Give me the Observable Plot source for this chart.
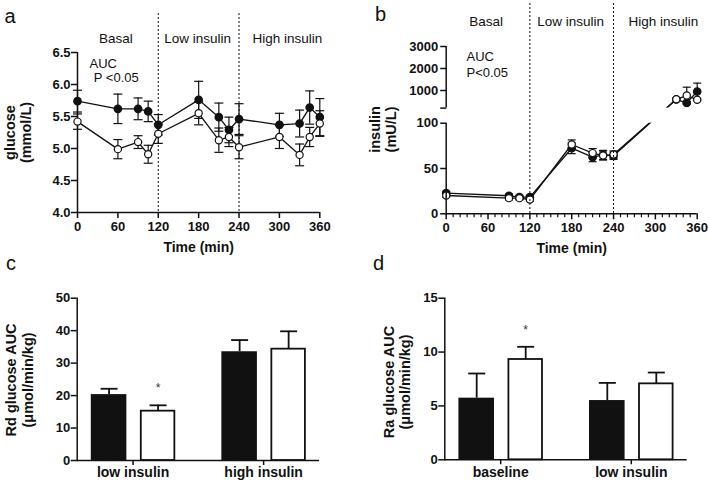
<!DOCTYPE html>
<html><head><meta charset="utf-8">
<script src="https://cdn.jsdelivr.net/npm/d3@7"></script>
<script src="https://cdn.jsdelivr.net/npm/@observablehq/plot@0.6"></script>
<style>
body{margin:0;background:#fff;}
#fig{position:relative;width:709px;height:484px;font-family:"Liberation Sans",Arial,sans-serif;color:#111;overflow:hidden;}
.lbl{position:absolute;font-size:20px;line-height:20px;}
</style></head><body><div id="fig"></div>
<script>
// ---------- data ----------
const phaseNames = ["Basal", "Low insulin", "High insulin"];
const phaseBounds = [0, 120, 240, 360];
const timeTicks = [0, 60, 120, 180, 240, 300, 360];
const minorTimeTicks = [10,20,30,40,50,70,80,90,100,110,130,140,150,160,170,190,200,210,220,230,250,260,270,280,290,310,320,330,340,350];

// panel a: glucose (mmol/L)
const glucoseTime = [0, 60, 90, 105, 120, 180, 210, 225, 240, 300, 330, 345, 360];
const glucoseFilled = [5.74, 5.62, 5.62, 5.58, 5.37, 5.76, 5.49, 5.29, 5.46, 5.37, 5.39, 5.64, 5.49];
const glucoseFilledErr = [0.17, 0.23, 0.17, 0.16, 0.16, 0.29, 0.22, 0.20, 0.24, 0.18, 0.21, 0.26, 0.29];
const glucoseOpen = [5.42, 4.99, 5.10, 4.91, 5.23, 5.55, 5.13, 5.18, 5.02, 5.18, 4.90, 5.18, 5.39];
const glucoseOpenErr = [0.12, 0.15, 0.10, 0.14, 0.15, 0.18, 0.19, 0.15, 0.18, 0.18, 0.17, 0.15, 0.20];
const glucoseTicks = [4.0, 4.5, 5.0, 5.5, 6.0, 6.5];

// panel b: insulin (mU/L), broken axis
const insulinTime = [0, 90, 105, 120, 180, 210, 225, 240, 330, 345, 360];
const insulinFilled = [22.8, 19.9, 18.4, 18.4, 72.4, 62.5, 65.0, 64.0, 590, 440, 955];
const insulinFilledErr = [2, 2, 2, 2, 6, 5, 5, 4, 40, 40, 380];
const insulinOpen = [20.2, 17.3, 17.3, 15.8, 76.5, 67.0, 64.3, 65.4, 600, 770, 580];
const insulinOpenErr = [2, 2, 2, 2, 5, 5, 5, 4, 40, 380, 40];
const insulinLowTicks = [0, 50, 100];
const insulinHighTicks = [1000, 2000, 3000];
const insulinBreak = [100, 200];

// panel c: Rd glucose AUC
const rdCategories = ["low insulin", "high insulin"];
const rdFilled = [20.3, 33.5];
const rdFilledErr = [1.8, 3.6];
const rdOpen = [15.2, 34.3];
const rdOpenErr = [1.8, 5.5];
const rdSignif = [true, false];
const rdTicks = [0, 10, 20, 30, 40, 50];

// panel d: Ra glucose AUC
const raCategories = ["baseline", "low insulin"];
const raFilled = [5.72, 5.50];
const raFilledErr = [2.29, 1.64];
const raOpen = [9.31, 7.05];
const raOpenErr = [1.18, 1.05];
const raSignif = [true, false];
const raTicks = [0, 5, 10, 15];

// ---------- helpers ----------
const fig = document.getElementById("fig");
const font = '"Liberation Sans", Arial, sans-serif';
const ink = "#111";
const baseStyle = {fontFamily: font, fontSize: "13px", fontWeight: "bold", color: ink, background: "transparent", overflow: "visible"};
const cap = (half) => ({draw(ctx) { ctx.moveTo(-half, 0); ctx.lineTo(half, 0); }});
const vtick = (len) => ({draw(ctx) { ctx.moveTo(0, 0); ctx.lineTo(0, len); }});
const htick = (len) => ({draw(ctx) { ctx.moveTo(0, 0); ctx.lineTo(-len, 0); }});
function place(node, left, top) {
  node.style.position = "absolute";
  node.style.left = left + "px";
  node.style.top = top + "px";
  fig.appendChild(node);
}
function letter(txt, left, top) {
  const d = document.createElement("div");
  d.className = "lbl"; d.textContent = txt;
  d.style.left = left + "px"; d.style.top = top + "px";
  fig.appendChild(d);
}
const series = (time, fv, fe, ov, oe) => time.flatMap((t, i) => [
  {t, v: fv[i], e: fe[i], g: "filled"},
  {t, v: ov[i], e: oe[i], g: "open"}
]);
const phaseDx = [-2, -1, 8];
const phaseMarks = (dy) => phaseNames.map((name, i) => Plot.text([name], {
  x: () => (phaseBounds[i] + phaseBounds[i + 1]) / 2, frameAnchor: "top", dy, dx: phaseDx[i],
  textAnchor: "middle", lineAnchor: "middle", fontWeight: "normal", fontSize: 13.5
}));
const yTitle = (txt, dx, dy, lh) => Plot.text([txt], {
  frameAnchor: "left", rotate: -90, dx, dy, textAnchor: "middle", lineAnchor: "middle",
  fontSize: 14.5, fontWeight: "bold", lineHeight: lh
});
const timeTitle = Plot.text(["Time (min)"], {frameAnchor: "bottom", dy: 35, textAnchor: "middle", lineAnchor: "middle", fontSize: 14, fontWeight: "bold"});
const ident = (v) => v;
const timeSeriesMarks = (data, capHalf, f = ident) => [
  Plot.line(data, {x: "t", y: d => f(d.v), z: "g", stroke: ink, strokeWidth: 1.3}),
  Plot.ruleX(data, {x: "t", y1: d => f(d.v - d.e), y2: d => f(d.v + d.e), stroke: ink, strokeWidth: 1.2}),
  Plot.dot(data, {x: "t", y: d => f(d.v + d.e), symbol: cap(capHalf), stroke: ink, strokeWidth: 1.2, fill: "none"}),
  Plot.dot(data, {x: "t", y: d => f(d.v - d.e), symbol: cap(capHalf), stroke: ink, strokeWidth: 1.2, fill: "none"}),
  Plot.dot(data.filter(d => d.g === "filled"), {x: "t", y: d => f(d.v), r: 3.6, fill: ink, stroke: ink}),
  Plot.dot(data.filter(d => d.g === "open"), {x: "t", y: d => f(d.v), r: 3.6, fill: "white", stroke: ink, strokeWidth: 1.2})
];

// ---------- panel a ----------
const glData = series(glucoseTime, glucoseFilled, glucoseFilledErr, glucoseOpen, glucoseOpenErr);
const plotA = Plot.plot({
  width: 355, height: 258,
  marginLeft: 77, marginRight: 35.7, marginTop: 13, marginBottom: 46,
  style: baseStyle,
  x: {domain: [phaseBounds[0], phaseBounds[3]]},
  y: {domain: [glucoseTicks[0], glucoseTicks[glucoseTicks.length - 1]], range: [212, 52]},
  marks: [
    Plot.ruleX(phaseBounds.slice(1, 3), {stroke: ink, strokeDasharray: "2,2", strokeWidth: 1}),
    Plot.ruleY([glucoseTicks[0]], {stroke: ink, strokeWidth: 1.5}),
    Plot.ruleX([0], {y1: glucoseTicks[0], y2: glucoseTicks[glucoseTicks.length - 1], stroke: ink, strokeWidth: 1.5}),
    Plot.axisX({ticks: timeTicks, tickSize: 6, tickPadding: 3, label: null, strokeWidth: 1.5}),
    Plot.axisY({ticks: glucoseTicks, tickFormat: d3.format(".1f"), tickSize: 6, tickPadding: 1, label: null, strokeWidth: 1.5}),
    ...timeSeriesMarks(glData, 4.5),
    ...phaseMarks(25),
    Plot.text(["AUC"], {frameAnchor: "top-left", dx: 12, dy: 50.3, textAnchor: "start", lineAnchor: "middle", fontWeight: "normal", fontSize: 13}),
    Plot.text(["P <0.05"], {frameAnchor: "top-left", dx: 16.3, dy: 64.3, textAnchor: "start", lineAnchor: "middle", fontWeight: "normal", fontSize: 13}),
    yTitle("glucose\n(mmol/L)", -59.5, 19.5, 1.05),
    timeTitle
  ]
});
place(plotA, 0, 0);

// ---------- panel b (broken y axis) ----------
// display units: lower segment in mU/L, then a gap, then the compressed upper segment
const insGap = 16.67;                 // height of the axis break, in lower-segment units
const insUpperPerUnit = 68 / 2800;    // compression of the upper segment
const brokenY = (v) => v <= insulinBreak[0] ? v
  : v >= insulinBreak[1] ? insulinBreak[0] + insGap + (v - insulinBreak[1]) * insUpperPerUnit
  : insulinBreak[0] + (v - insulinBreak[0]) / (insulinBreak[1] - insulinBreak[0]) * insGap;
const insData = series(insulinTime, insulinFilled, insulinFilledErr, insulinOpen, insulinOpenErr);
const insTop = insulinHighTicks[insulinHighTicks.length - 1];
const insTicks = [...insulinLowTicks, ...insulinHighTicks];
const plotB = Plot.plot({
  width: 354, height: 258,
  marginLeft: 90.7, marginRight: 12.3, marginTop: 3, marginBottom: 44.7,
  style: baseStyle,
  x: {domain: [phaseBounds[0], phaseBounds[3]]},
  y: {axis: null, domain: [brokenY(insulinLowTicks[0]), brokenY(insTop)], range: [213.3, 46]},
  marks: [
    ...timeSeriesMarks(insData, 4, brokenY),
    Plot.rect([insulinBreak], {y1: d => brokenY(d[0]), y2: d => brokenY(d[1]), fill: "white"}),
    Plot.ruleX(phaseBounds.slice(1, 3), {stroke: ink, strokeDasharray: "2,2", strokeWidth: 1}),
    Plot.ruleY([brokenY(insulinLowTicks[0])], {stroke: ink, strokeWidth: 1.5}),
    Plot.ruleX([0], {y1: brokenY(insulinLowTicks[0]), y2: brokenY(insulinBreak[0]), stroke: ink, strokeWidth: 1.5}),
    Plot.ruleX([0], {y1: brokenY(insulinBreak[1]), y2: brokenY(insTop), stroke: ink, strokeWidth: 1.5}),
    Plot.axisX({ticks: timeTicks, tickSize: 6, tickPadding: 3, label: null, strokeWidth: 1.5}),
    Plot.dot(minorTimeTicks, {x: d => d, y: () => brokenY(insulinLowTicks[0]), symbol: vtick(3.5), stroke: ink, strokeWidth: 1.2, fill: "none"}),
    Plot.dot([...insTicks, insulinBreak[1]], {x: () => 0, y: d => brokenY(d), symbol: htick(6), stroke: ink, strokeWidth: 1.5, fill: "none"}),
    Plot.text(insTicks, {x: () => 0, y: d => brokenY(d), text: d => String(d), dx: -8, textAnchor: "end", lineAnchor: "middle", fontSize: 13, fontWeight: "bold"}),
    ...phaseMarks(18),
    Plot.text(["AUC"], {frameAnchor: "top-left", dx: 20.3, dy: 53, textAnchor: "start", lineAnchor: "middle", fontWeight: "normal", fontSize: 13}),
    Plot.text(["P<0.05"], {frameAnchor: "top-left", dx: 20.3, dy: 69, textAnchor: "start", lineAnchor: "middle", fontWeight: "normal", fontSize: 13}),
    yTitle("insulin\n(mU/L)", -63.2, 20.8, 1.05),
    timeTitle
  ]
});
place(plotB, 355, 0);

// ---------- bar panels ----------
function barPanel({cats, fv, fe, ov, oe, sig, ticks, title, width, marginLeft, marginRight, marginTop, marginBottom, titleDx, titleDy}) {
  const data = cats.map((cat, i) => ({cat, fv: fv[i], fe: fe[i], ov: ov[i], oe: oe[i], sig: sig[i]}));
  return Plot.plot({
    width, height: 226, marginLeft, marginRight, marginTop, marginBottom,
    style: baseStyle,
    x: {type: "band", domain: cats, paddingInner: 0.36, paddingOuter: 0.108, round: false},
    y: {domain: [ticks[0], ticks[ticks.length - 1]]},
    marks: [
      Plot.barY(data, {x: "cat", y: "fv", fill: ink, insetRight: 48}),
      Plot.barY(data, {x: "cat", y: "ov", fill: "white", stroke: ink, strokeWidth: 1.8, insetLeft: 50}),
      Plot.ruleX(data, {x: "cat", y1: "fv", y2: d => d.fv + d.fe, dx: -24, stroke: ink, strokeWidth: 1.8}),
      Plot.dot(data, {x: "cat", y: d => d.fv + d.fe, dx: -24, symbol: cap(8.5), stroke: ink, strokeWidth: 1.8, fill: "none"}),
      Plot.ruleX(data, {x: "cat", y1: "ov", y2: d => d.ov + d.oe, dx: 25, stroke: ink, strokeWidth: 1.8}),
      Plot.dot(data, {x: "cat", y: d => d.ov + d.oe, dx: 25, symbol: cap(8.5), stroke: ink, strokeWidth: 1.8, fill: "none"}),
      Plot.text(data.filter(d => d.sig), {x: "cat", y: d => d.ov + d.oe, text: () => "*", dx: 25, dy: -17, fontSize: 12, fontWeight: "normal", fill: "#333"}),
      Plot.frame({anchor: "left", stroke: ink, strokeWidth: 1.5}),
      Plot.ruleY([ticks[0]], {stroke: ink, strokeWidth: 1.5}),
      Plot.axisY({ticks, tickSize: 6, tickPadding: 1, label: null, strokeWidth: 1.5}),
      Plot.axisX({tickSize: 5, tickPadding: 2, label: null, strokeWidth: 1.5, fontSize: 14}),
      yTitle(title, titleDx, titleDy, 1.15)
    ]
  });
}
const plotC = barPanel({cats: rdCategories, fv: rdFilled, fe: rdFilledErr, ov: rdOpen, oe: rdOpenErr, sig: rdSignif, ticks: rdTicks,
  title: "Rd glucose AUC\n(\u03bcmol/min/kg)", width: 355, marginLeft: 76.7, marginRight: 36, marginTop: 39.7, marginBottom: 24,
  titleDx: -58.2, titleDy: 0.6});
place(plotC, 0, 258);
const plotD = barPanel({cats: raCategories, fv: raFilled, fe: raFilledErr, ov: raOpen, oe: raOpenErr, sig: raSignif, ticks: raTicks,
  title: "Ra glucose AUC\n(\u03bcmol/min/kg)", width: 354, marginLeft: 89.3, marginRight: 22.3, marginTop: 39.7, marginBottom: 24.7,
  titleDx: -48.3, titleDy: 3});
place(plotD, 355, 258);

// panel letters
letter("a", 4.4, 6.3);
letter("b", 375, 3.7);
letter("c", 6, 253);
letter("d", 373, 253);
</script></body></html>
